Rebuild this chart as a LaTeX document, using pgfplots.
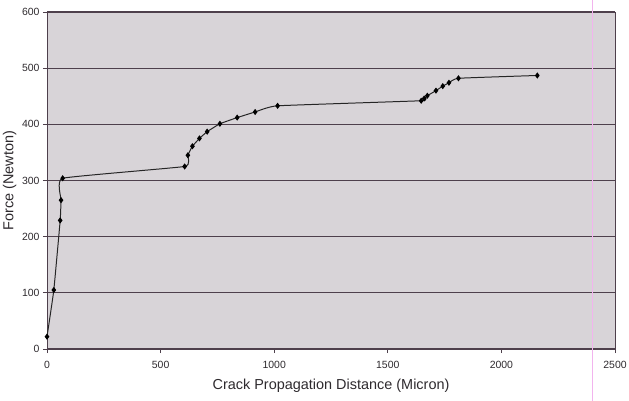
\documentclass[border=0pt]{standalone}
\usepackage{pgfplots}
\pgfplotsset{compat=1.18}
\usepackage{fontspec}
\setmainfont{Liberation Sans}
\definecolor{bgc}{HTML}{D8D4D8}
\definecolor{gridc}{HTML}{4E404C}
\definecolor{txt}{HTML}{2E2A2E}
\definecolor{pinkc}{HTML}{F2B4EE}
\begin{document}
\begin{tikzpicture}[x=1bp,y=1bp]
\useasboundingbox (-47,-51) rectangle (582,349);
\begin{axis}[
  at={(0,0)}, anchor=south west,
  scale only axis, width=568bp, height=337bp,
  xmin=0, xmax=2500, ymin=0, ymax=600,
  xtick={0,500,1000,1500,2000,2500},
  ytick={0,100,200,300,400,500,600},
  ymajorgrids,
  grid style={gridc, line width=1.2pt},
  axis line style={gridc, line width=0.9pt},
  tick style={gridc, line width=0.8pt},
  tick align=outside, major tick length=4bp,
  xtick pos=bottom, ytick pos=left,
  axis background/.style={fill=bgc},
  tick label style={font=\fontsize{10.5}{12}\selectfont, text=txt},
  /pgf/number format/assume math mode=true,
  /pgf/number format/1000 sep={},
  xticklabel style={yshift=-5bp},
  xlabel={Crack Propagation Distance (Micron)},
  ylabel={Force (Newton)},
  label style={font=\fontsize{14.5}{16}\selectfont, text=txt},
  xlabel style={at={(axis description cs:0.5,-0.108)}, anchor=center},
  ylabel style={at={(axis description cs:-0.066,0.5)}, anchor=center, rotate=0},
  clip=false,
]
\draw[pinkc, line width=1pt] (axis cs:2400,0) ++(0,-60bp) -- (axis cs:2400,600) -- ++(0,20bp);
\addplot[black!85, line width=1pt, smooth, tension=0.2,
  mark=diamond*, mark size=2.3bp, mark options={black, solid}] coordinates {
(0,22) (30,105) (58,229) (62,265) (69,304)
(606,325) (620,345) (640,361) (671,375) (705,387) (761,401)
(837,412) (916,422) (1015,433)
(1647,442) (1660,446) (1674,451) (1712,460) (1742,468) (1769,474) (1811,482)
(2158,487)
};
\end{axis}
\end{tikzpicture}
\end{document}
